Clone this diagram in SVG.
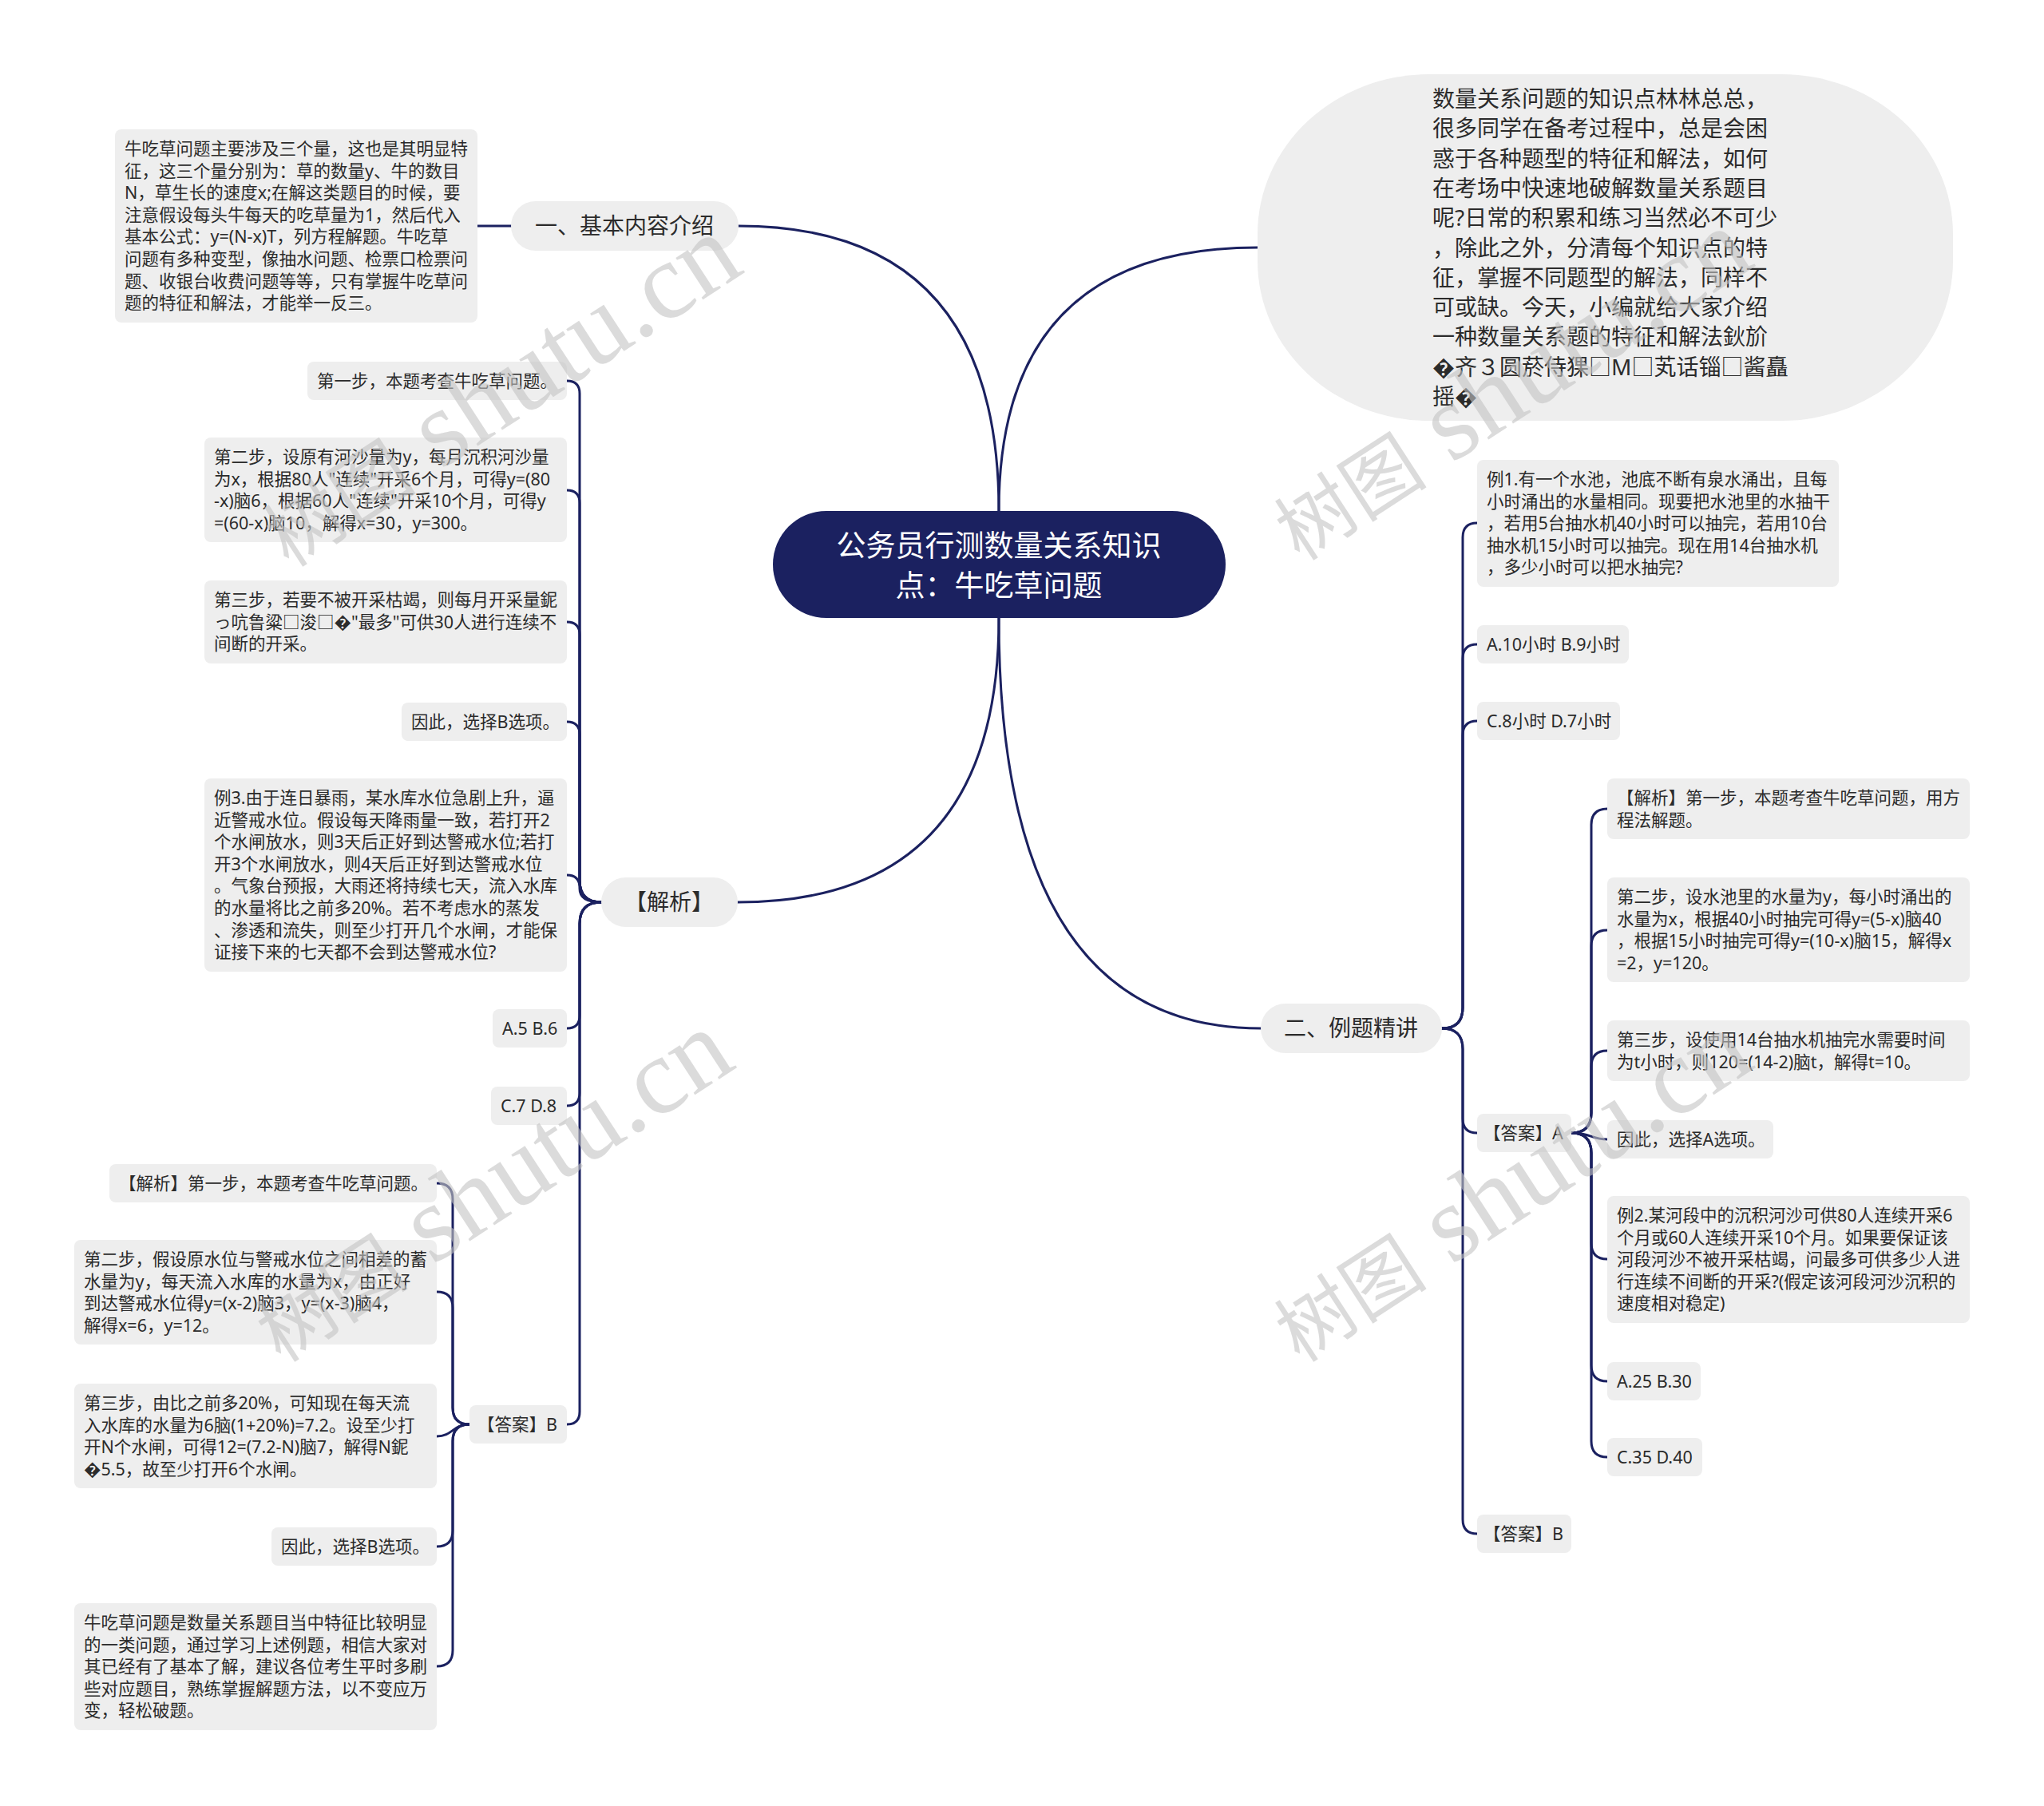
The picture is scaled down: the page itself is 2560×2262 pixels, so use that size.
<svg xmlns="http://www.w3.org/2000/svg" width="2560" height="2262" viewBox="0 0 2560 2262">
<style>
.bg{fill:#ffffff}
.box{fill:#eeeeee}
.t{font-family:'Noto Sans','Noto Sans CJK SC',sans-serif;font-size:21.5px;fill:#2b2b2b}
.b{font-family:'Noto Sans','Noto Sans CJK SC',sans-serif;font-size:28px;fill:#2b2b2b}
.c{font-family:'Noto Sans','Noto Sans CJK SC',sans-serif;font-size:37px;fill:#ffffff}
.ln{fill:none;stroke:#1b2160;stroke-width:3;stroke-linecap:round}
.wm{font-family:'Liberation Serif','Noto Sans CJK SC',serif;fill:#c4c4c4;opacity:0.6}
</style>
<rect class="bg" x="0" y="0" width="2560" height="2262"/>
<g id="connectors">
<path class="ln" d="M 1251 640 Q 1251 283 925 283"/>
<path class="ln" d="M 1251 640 Q 1251 310 1575 310"/>
<path class="ln" d="M 1251 774 Q 1251 1130 924 1130"/>
<path class="ln" d="M 1251 774 Q 1251 1288 1579 1288"/>
<path class="ln" d="M 640 283 L 598 283"/>
<path class="ln" d="M 753 1130 Q 726 1130 726 1103 L 726 493 Q 726 477 710 477"/>
<path class="ln" d="M 753 1130 Q 726 1130 726 1103 L 726 630 Q 726 614 710 614"/>
<path class="ln" d="M 753 1130 Q 726 1130 726 1103 L 726 795 Q 726 779 710 779"/>
<path class="ln" d="M 753 1130 Q 726 1130 726 1103 L 726 920 Q 726 904 710 904"/>
<path class="ln" d="M 753 1130 Q 726 1130 726 1113 L 726 1112 Q 726 1096 710 1096"/>
<path class="ln" d="M 753 1130 Q 726 1130 726 1157 L 726 1272 Q 726 1288 710 1288"/>
<path class="ln" d="M 753 1130 Q 726 1130 726 1157 L 726 1369 Q 726 1385 710 1385"/>
<path class="ln" d="M 753 1130 Q 726 1130 726 1157 L 726 1768 Q 726 1784 710 1784"/>
<path class="ln" d="M 588 1784 Q 567 1784 567 1763 L 567 1502 Q 567 1482 547 1482"/>
<path class="ln" d="M 588 1784 Q 567 1784 567 1763 L 567 1638 Q 567 1618 547 1618"/>
<path class="ln" d="M 588 1784 C 567 1784 567 1799 547 1799"/>
<path class="ln" d="M 588 1784 Q 567 1784 567 1805 L 567 1917 Q 567 1937 547 1937"/>
<path class="ln" d="M 588 1784 Q 567 1784 567 1805 L 567 2067 Q 567 2087 547 2087"/>
<path class="ln" d="M 1806 1288 Q 1832 1288 1832 1262 L 1832 673 Q 1832 655 1850 655"/>
<path class="ln" d="M 1806 1288 Q 1832 1288 1832 1262 L 1832 825 Q 1832 807 1850 807"/>
<path class="ln" d="M 1806 1288 Q 1832 1288 1832 1262 L 1832 921 Q 1832 903 1850 903"/>
<path class="ln" d="M 1806 1288 Q 1832 1288 1832 1314 L 1832 1401 Q 1832 1419 1850 1419"/>
<path class="ln" d="M 1806 1288 Q 1832 1288 1832 1314 L 1832 1903 Q 1832 1921 1850 1921"/>
<path class="ln" d="M 1968 1419 Q 1993 1419 1993 1394 L 1993 1033 Q 1993 1013 2013 1013"/>
<path class="ln" d="M 1968 1419 Q 1993 1419 1993 1394 L 1993 1185 Q 1993 1165 2013 1165"/>
<path class="ln" d="M 1968 1419 Q 1993 1419 1993 1394 L 1993 1336 Q 1993 1316 2013 1316"/>
<path class="ln" d="M 1968 1419 C 1993 1419 1993 1427 2013 1427"/>
<path class="ln" d="M 1968 1419 Q 1993 1419 1993 1444 L 1993 1557 Q 1993 1577 2013 1577"/>
<path class="ln" d="M 1968 1419 Q 1993 1419 1993 1444 L 1993 1710 Q 1993 1730 2013 1730"/>
<path class="ln" d="M 1968 1419 Q 1993 1419 1993 1444 L 1993 1805 Q 1993 1825 2013 1825"/>
</g>

<g id="center">
<rect x="968" y="640" width="567" height="134" rx="67" fill="#1b2160"/>
<text class="c" text-anchor="middle"><tspan x="1251" y="697">公务员行测数量关系知识</tspan><tspan x="1251" y="747">点：牛吃草问题</tspan></text>
</g>

<g id="n-intro">
<rect class="box" x="640" y="252" width="285" height="62" rx="31"/>
<text class="b" x="782" y="293" text-anchor="middle">一、基本内容介绍</text>
</g>
<g id="n-intro-text">
<rect class="box" x="144" y="162" width="454" height="242" rx="8"/>
<text class="t"><tspan x="156" y="194">牛吃草问题主要涉及三个量，这也是其明显特</tspan><tspan x="156" dy="27.6">征，这三个量分别为：草的数量y、牛的数目</tspan><tspan x="156" dy="27.6">N，草生长的速度x;在解这类题目的时候，要</tspan><tspan x="156" dy="27.6">注意假设每头牛每天的吃草量为1，然后代入</tspan><tspan x="156" dy="27.6">基本公式：y=(N-x)T，列方程解题。牛吃草</tspan><tspan x="156" dy="27.6">问题有多种变型，像抽水问题、检票口检票问</tspan><tspan x="156" dy="27.6">题、收银台收费问题等等，只有掌握牛吃草问</tspan><tspan x="156" dy="27.6">题的特征和解法，才能举一反三。</tspan></text>
</g>

<g id="n-summary">
<rect class="box" x="1575" y="93" width="871" height="434" rx="215" ry="200"/>
<text class="b"><tspan x="1794" y="134">数量关系问题的知识点林林总总，</tspan><tspan x="1794" dy="37.3">很多同学在备考过程中，总是会困</tspan><tspan x="1794" dy="37.3">惑于各种题型的特征和解法，如何</tspan><tspan x="1794" dy="37.3">在考场中快速地破解数量关系题目</tspan><tspan x="1794" dy="37.3">呢?日常的积累和练习当然必不可少</tspan><tspan x="1794" dy="37.3">，除此之外，分清每个知识点的特</tspan><tspan x="1794" dy="37.3">征，掌握不同题型的解法，同样不</tspan><tspan x="1794" dy="37.3">可或缺。今天，小编就给大家介绍</tspan><tspan x="1794" dy="37.3">一种数量关系题的特征和解法鈥斺</tspan><tspan x="1794" dy="37.3">�齐３圆菸侍猓□M□芄话锱□酱矗</tspan><tspan x="1794" dy="37.3">摇�</tspan></text>
</g>

<g id="n-jiexi">
<rect class="box" x="753" y="1099" width="171" height="62" rx="31"/>
<text class="b" x="838" y="1140" text-anchor="middle">【解析】</text>
</g>
<g id="n-l-a">
<rect class="box" x="385" y="453" width="325" height="48" rx="8"/>
<text class="t" x="397" y="485">第一步，本题考查牛吃草问题。</text>
</g>
<g id="n-l-b">
<rect class="box" x="256" y="548" width="454" height="131" rx="8"/>
<text class="t"><tspan x="268" y="580">第二步，设原有河沙量为y，每月沉积河沙量</tspan><tspan x="268" dy="27.6">为x，根据80人"连续"开采6个月，可得y=(80</tspan><tspan x="268" dy="27.6">-x)脑6，根据60人"连续"开采10个月，可得y</tspan><tspan x="268" dy="27.6">=(60-x)脑10，解得x=30，y=300。</tspan></text>
</g>
<g id="n-l-c">
<rect class="box" x="256" y="727" width="454" height="104" rx="8"/>
<text class="t"><tspan x="268" y="759">第三步，若要不被开采枯竭，则每月开采量鈮</tspan><tspan x="268" dy="27.6">っ吭鲁粱□浚□�"最多"可供30人进行连续不</tspan><tspan x="268" dy="27.6">间断的开采。</tspan></text>
</g>
<g id="n-l-d">
<rect class="box" x="503" y="880" width="207" height="48" rx="8"/>
<text class="t" x="515" y="912">因此，选择B选项。</text>
</g>
<g id="n-l-e">
<rect class="box" x="256" y="975" width="454" height="242" rx="8"/>
<text class="t"><tspan x="268" y="1007">例3.由于连日暴雨，某水库水位急剧上升，逼</tspan><tspan x="268" dy="27.6">近警戒水位。假设每天降雨量一致，若打开2</tspan><tspan x="268" dy="27.6">个水闸放水，则3天后正好到达警戒水位;若打</tspan><tspan x="268" dy="27.6">开3个水闸放水，则4天后正好到达警戒水位</tspan><tspan x="268" dy="27.6">。气象台预报，大雨还将持续七天，流入水库</tspan><tspan x="268" dy="27.6">的水量将比之前多20%。若不考虑水的蒸发</tspan><tspan x="268" dy="27.6">、渗透和流失，则至少打开几个水闸，才能保</tspan><tspan x="268" dy="27.6">证接下来的七天都不会到达警戒水位?</tspan></text>
</g>
<g id="n-l-f">
<rect class="box" x="617" y="1264" width="93" height="48" rx="8"/>
<text class="t" x="629" y="1296">A.5 B.6</text>
</g>
<g id="n-l-g">
<rect class="box" x="615" y="1361" width="95" height="48" rx="8"/>
<text class="t" x="627" y="1393">C.7 D.8</text>
</g>
<g id="n-l-h">
<rect class="box" x="588" y="1760" width="122" height="48" rx="8"/>
<text class="t" x="598" y="1792">【答案】B</text>
</g>
<g id="n-l-h1">
<rect class="box" x="137" y="1458" width="410" height="48" rx="8"/>
<text class="t" x="149" y="1490">【解析】第一步，本题考查牛吃草问题。</text>
</g>
<g id="n-l-h2">
<rect class="box" x="93" y="1553" width="454" height="131" rx="8"/>
<text class="t"><tspan x="105" y="1585">第二步，假设原水位与警戒水位之间相差的蓄</tspan><tspan x="105" dy="27.6">水量为y，每天流入水库的水量为x，由正好</tspan><tspan x="105" dy="27.6">到达警戒水位得y=(x-2)脑3，y=(x-3)脑4，</tspan><tspan x="105" dy="27.6">解得x=6，y=12。</tspan></text>
</g>
<g id="n-l-h3">
<rect class="box" x="93" y="1733" width="454" height="131" rx="8"/>
<text class="t"><tspan x="105" y="1765">第三步，由比之前多20%，可知现在每天流</tspan><tspan x="105" dy="27.6">入水库的水量为6脑(1+20%)=7.2。设至少打</tspan><tspan x="105" dy="27.6">开N个水闸，可得12=(7.2-N)脑7，解得N鈮</tspan><tspan x="105" dy="27.6">�5.5，故至少打开6个水闸。</tspan></text>
</g>
<g id="n-l-h4">
<rect class="box" x="340" y="1913" width="207" height="48" rx="8"/>
<text class="t" x="352" y="1945">因此，选择B选项。</text>
</g>
<g id="n-l-h5">
<rect class="box" x="93" y="2008" width="454" height="159" rx="8"/>
<text class="t"><tspan x="105" y="2040">牛吃草问题是数量关系题目当中特征比较明显</tspan><tspan x="105" dy="27.6">的一类问题，通过学习上述例题，相信大家对</tspan><tspan x="105" dy="27.6">其已经有了基本了解，建议各位考生平时多刷</tspan><tspan x="105" dy="27.6">些对应题目，熟练掌握解题方法，以不变应万</tspan><tspan x="105" dy="27.6">变，轻松破题。</tspan></text>
</g>

<g id="n-examples">
<rect class="box" x="1579" y="1257" width="227" height="62" rx="31"/>
<text class="b" x="1692" y="1298" text-anchor="middle">二、例题精讲</text>
</g>
<g id="n-r1">
<rect class="box" x="1850" y="576" width="453" height="159" rx="8"/>
<text class="t"><tspan x="1862" y="608">例1.有一个水池，池底不断有泉水涌出，且每</tspan><tspan x="1862" dy="27.6">小时涌出的水量相同。现要把水池里的水抽干</tspan><tspan x="1862" dy="27.6">，若用5台抽水机40小时可以抽完，若用10台</tspan><tspan x="1862" dy="27.6">抽水机15小时可以抽完。现在用14台抽水机</tspan><tspan x="1862" dy="27.6">，多少小时可以把水抽完?</tspan></text>
</g>
<g id="n-r2">
<rect class="box" x="1850" y="783" width="190" height="48" rx="8"/>
<text class="t" x="1862" y="815">A.10小时 B.9小时</text>
</g>
<g id="n-r3">
<rect class="box" x="1850" y="879" width="179" height="48" rx="8"/>
<text class="t" x="1862" y="911">C.8小时 D.7小时</text>
</g>
<g id="n-r4">
<rect class="box" x="1850" y="1395" width="118" height="48" rx="8"/>
<text class="t" x="1858" y="1427">【答案】A</text>
</g>
<g id="n-r5">
<rect class="box" x="1850" y="1897" width="118" height="48" rx="8"/>
<text class="t" x="1858" y="1929">【答案】B</text>
</g>
<g id="n-r4a">
<rect class="box" x="2013" y="975" width="454" height="76" rx="8"/>
<text class="t"><tspan x="2025" y="1007">【解析】第一步，本题考查牛吃草问题，用方</tspan><tspan x="2025" dy="27.6">程法解题。</tspan></text>
</g>
<g id="n-r4b">
<rect class="box" x="2013" y="1099" width="454" height="131" rx="8"/>
<text class="t"><tspan x="2025" y="1131">第二步，设水池里的水量为y，每小时涌出的</tspan><tspan x="2025" dy="27.6">水量为x，根据40小时抽完可得y=(5-x)脑40</tspan><tspan x="2025" dy="27.6">，根据15小时抽完可得y=(10-x)脑15，解得x</tspan><tspan x="2025" dy="27.6">=2，y=120。</tspan></text>
</g>
<g id="n-r4c">
<rect class="box" x="2013" y="1278" width="454" height="76" rx="8"/>
<text class="t"><tspan x="2025" y="1310">第三步，设使用14台抽水机抽完水需要时间</tspan><tspan x="2025" dy="27.6">为t小时，则120=(14-2)脑t，解得t=10。</tspan></text>
</g>
<g id="n-r4d">
<rect class="box" x="2013" y="1403" width="208" height="48" rx="8"/>
<text class="t" x="2025" y="1435">因此，选择A选项。</text>
</g>
<g id="n-r4e">
<rect class="box" x="2013" y="1498" width="454" height="159" rx="8"/>
<text class="t"><tspan x="2025" y="1530">例2.某河段中的沉积河沙可供80人连续开采6</tspan><tspan x="2025" dy="27.6">个月或60人连续开采10个月。如果要保证该</tspan><tspan x="2025" dy="27.6">河段河沙不被开采枯竭，问最多可供多少人进</tspan><tspan x="2025" dy="27.6">行连续不间断的开采?(假定该河段河沙沉积的</tspan><tspan x="2025" dy="27.6">速度相对稳定)</tspan></text>
</g>
<g id="n-r4f">
<rect class="box" x="2013" y="1706" width="117" height="48" rx="8"/>
<text class="t" x="2025" y="1738">A.25 B.30</text>
</g>
<g id="n-r4g">
<rect class="box" x="2013" y="1801" width="119" height="48" rx="8"/>
<text class="t" x="2025" y="1833">C.35 D.40</text>
</g>

<g id="watermarks">
<text class="wm" transform="translate(362,712) rotate(-33)"><tspan font-size="96">树图</tspan><tspan font-size="136"> shutu.cn</tspan></text>
<text class="wm" transform="translate(352,1708) rotate(-33)"><tspan font-size="96">树图</tspan><tspan font-size="136"> shutu.cn</tspan></text>
<text class="wm" transform="translate(1628,704) rotate(-33)"><tspan font-size="96">树图</tspan><tspan font-size="136"> shutu.cn</tspan></text>
<text class="wm" transform="translate(1628,1708) rotate(-33)"><tspan font-size="96">树图</tspan><tspan font-size="136"> shutu.cn</tspan></text>
</g>
</svg>
